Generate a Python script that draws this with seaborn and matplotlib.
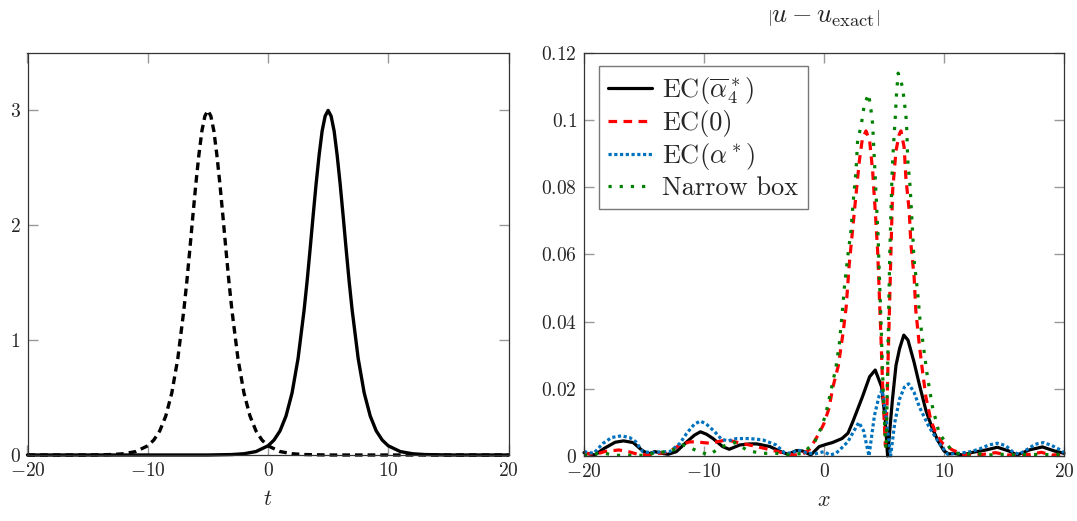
import matplotlib
matplotlib.use("Agg")
import matplotlib.pyplot as plt
import seaborn as sns

# left panel: initial (dashed) and exact (solid) profiles
t_exact = [-20, -5, -3, -2, -1, 0, 0.5, 1, 1.5, 2, 2.5, 3, 3.25, 3.5, 3.75, 4, 4.25, 4.5,
           4.75, 5, 5.25, 5.5, 5.75, 6, 6.25, 6.5, 6.75, 7, 7.5, 8, 8.5, 9, 9.5, 10, 11,
           12, 13, 15, 20]
u_exact = [0, 0, 0.004, 0.011, 0.03, 0.08, 0.13, 0.21, 0.34, 0.54, 0.84, 1.26, 1.51, 1.79,
           2.08, 2.36, 2.61, 2.82, 2.95, 3.00, 2.95, 2.82, 2.61, 2.36, 2.08, 1.79, 1.51,
           1.26, 0.84, 0.54, 0.34, 0.21, 0.13, 0.08, 0.03, 0.011, 0.004, 0, 0]
t_init = [-20, -15, -13, -12, -11, -10, -9.5, -9, -8.5, -8, -7.5, -7, -6.75, -6.5, -6.25,
          -6, -5.75, -5.5, -5.25, -5, -4.75, -4.5, -4.25, -4, -3.75, -3.5, -3.25, -3,
          -2.5, -2, -1.5, -1, -0.5, 0, 1, 2, 3, 5, 20]
u_init = [0, 0, 0.004, 0.011, 0.03, 0.08, 0.13, 0.21, 0.34, 0.54, 0.84, 1.26, 1.51, 1.79,
          2.08, 2.36, 2.61, 2.82, 2.95, 3.00, 2.95, 2.82, 2.61, 2.36, 2.08, 1.79, 1.51,
          1.26, 0.84, 0.54, 0.34, 0.21, 0.13, 0.08, 0.03, 0.011, 0.004, 0, 0]

# right panel: |u - u_exact|
x_ec4 = [-20, -19.8, -19.1, -18.3, -17.4, -16.7, -15.9, -15.2, -14.65, -14.1, -13.5, -13.0,
         -12.3, -11.5, -10.8, -10.3, -9.8, -9.25, -8.45, -7.9, -7.0, -6.2, -5.6, -4.5, -3.6,
         -3.0, -2.3, -1.8, -1.1, -0.4, 0.2, 0.7, 1.5, 2.0, 2.4, 3.2, 3.8, 4.27, 4.8, 5.1,
         5.3, 5.7, 6.0, 6.3, 6.65, 7.0, 7.5, 8.0, 8.5, 9.0, 9.5, 10.0, 10.4, 10.8, 11.5,
         12.4, 13.5, 14.45, 15.4, 16.1, 17.1, 18.2, 19.2, 20]
err_ec4 = [0.001, 0.0008, 0.0003, 0.0023, 0.0041, 0.0045, 0.004, 0.0018, 0.0006, 0.0013,
           0.0008, 0.0005, 0.0013, 0.004, 0.0062, 0.0072, 0.0065, 0.0052, 0.0028, 0.002,
           0.0033, 0.0036, 0.0036, 0.0028, 0.0013, 0.0005, 0.0016, 0.0015, 0.0003, 0.0028,
           0.0035, 0.004, 0.0052, 0.0068, 0.0102, 0.0176, 0.0236, 0.0256, 0.0206, 0.011,
           0.0, 0.0167, 0.027, 0.032, 0.036, 0.0345, 0.028, 0.0205, 0.0135, 0.0085, 0.0045,
           0.0015, 0.0006, 0.0008, 0.0003, 0.0011, 0.0018, 0.0026, 0.0015, 0.0003, 0.0018,
           0.0027, 0.0015, 0.0008]

x_ec0 = [-20, -19, -18.3, -17.1, -16.2, -15.5, -14.5, -13.8, -13.0, -12.0, -11.2, -10.7,
         -9.5, -8.1, -6.9, -5.6, -4.4, -3.3, -2.5, -1.8, -1.2, -0.9, -0.4, 0.0, 0.4, 0.75,
         1.2, 1.6, 1.85, 2.1, 2.4, 2.7, 2.95, 3.2, 3.5, 3.8, 4.05, 4.27, 4.47, 4.6, 4.75,
         4.88, 5.0, 5.12, 5.25, 5.35, 5.44, 5.58, 5.72, 6.0, 6.27, 6.41, 6.68, 6.82, 7.1,
         7.24, 7.51, 7.65, 7.93, 8.2, 8.49, 8.9, 9.32, 9.87, 10.7, 11.6, 12.5, 13.3, 14.3,
         15.3, 16.3, 17.2, 18.1, 19.0, 20]
err_ec0 = [0.0008, 0.0005, 0.0013, 0.0018, 0.0012, 0.0005, 0.0003, 0.0008, 0.0011, 0.0033,
           0.0042, 0.0042, 0.0038, 0.0048, 0.0038, 0.0028, 0.0018, 0.0008, 0.0003, 0.0005,
           0.002, 0.0038, 0.0068, 0.0097, 0.014, 0.0206, 0.027, 0.037, 0.0445, 0.057, 0.068,
           0.079, 0.088, 0.0945, 0.0968, 0.094, 0.085, 0.073, 0.061, 0.049, 0.035, 0.0216,
           0.0117, 0.003, 0.015, 0.03, 0.0414, 0.0612, 0.079, 0.0909, 0.0958, 0.0968, 0.0919,
           0.083, 0.073, 0.0632, 0.0533, 0.0434, 0.0335, 0.0255, 0.0176, 0.0107, 0.0067,
           0.0038, 0.0018, 0.0005, 0.0003, 0.0005, 0.001, 0.0003, 0.0003, 0.0005, 0.0011,
           0.0003, 0.0005]

x_ecstar = [-20, -19.2, -18.4, -17.7, -16.9, -16.2, -15.7, -15.1, -14.4, -13.6, -12.85,
            -12.0, -11.45, -10.8, -10.3, -9.8, -9.1, -8.55, -8.0, -7.3, -6.2, -5.1, -4.0,
            -3.3, -2.7, -2.2, -1.5, -0.8, 0.0, 0.5, 1.0, 1.5, 2.0, 2.5, 2.9, 3.3, 3.75, 4.2,
            4.6, 4.85, 5.1, 5.55, 5.9, 6.3, 6.7, 7.05, 7.5, 7.95, 8.75, 9.6, 10.3, 11.2,
            12.1, 12.9, 13.75, 14.45, 15.15, 15.7, 16.25, 16.95, 17.6, 18.3, 19.0, 19.7, 20]
err_ecstar = [0.0013, 0.0008, 0.0038, 0.0055, 0.006, 0.0055, 0.0043, 0.0013, 0.001, 0.0012,
              0.0013, 0.0038, 0.0067, 0.0095, 0.0104, 0.0095, 0.0072, 0.005, 0.0045, 0.0052,
              0.0052, 0.0048, 0.0033, 0.001, 0.0008, 0.0018, 0.001, 0.0006, 0.0013, 0.0003,
              0.0008, 0.0025, 0.0043, 0.0075, 0.01, 0.0075, 0.0, 0.012, 0.018, 0.0196, 0.014,
              0.0, 0.01, 0.017, 0.0205, 0.0215, 0.019, 0.0146, 0.0087, 0.0038, 0.0005,
              0.0008, 0.0012, 0.002, 0.0033, 0.0038, 0.0031, 0.0013, 0.0005, 0.002, 0.0035,
              0.004, 0.0031, 0.0018, 0.001]

x_box = [-20, -19.6, -18.5, -17.5, -16, -15, -13.8, -12.85, -11.75, -10.6, -9.6, -8.5,
         -7.45, -6.34, -5.23, -4.0, -2.8, -1.77, -0.8, -0.33, 0.12, 0.59, 1.0, 1.28, 1.5,
         1.7, 1.97, 2.25, 2.44, 2.67, 2.8, 3.1, 3.36, 3.72, 3.91, 4.05, 4.2, 4.35, 4.5,
         4.62, 4.75, 4.87, 5.0, 5.12, 5.18, 5.25, 5.32, 5.4, 5.48, 5.58, 5.68, 5.8, 5.94,
         6.04, 6.18, 6.35, 6.54, 6.68, 6.82, 6.9, 6.98, 7.18, 7.38, 7.51, 7.79, 7.99, 8.29,
         8.62, 9.04, 9.6, 10.3, 10.7, 11.5, 12.5, 13.6, 14.8, 16, 17.2, 18.4, 19.5, 20]
err_box = [0.0003, 0.0002, 0.001, 0.0002, 0.0002, 0.0002, 0.0011, 0.0013, 0.0033, 0.0016,
           0.0003, 0.0028, 0.004, 0.0016, 0.0008, 0.0008, 0.0003, 0.0008, 0.004, 0.0077,
           0.012, 0.0196, 0.0265, 0.0335, 0.0419, 0.0503, 0.0592, 0.0671, 0.076, 0.085,
           0.0939, 0.0985, 0.1047, 0.1078, 0.1032, 0.099, 0.088, 0.077, 0.066, 0.053, 0.04,
           0.026, 0.013, 0.004, 0.002, 0.015, 0.03, 0.045, 0.06, 0.073, 0.085, 0.093, 0.1008,
           0.1077, 0.114, 0.112, 0.11, 0.1057, 0.1018, 0.097, 0.088, 0.08, 0.0666, 0.0582,
           0.0493, 0.0409, 0.0325, 0.0236, 0.0146, 0.0067, 0.0033, 0.0013, 0.0003, 0.0008,
           0.0003, 0.0005, 0.0003, 0.0005, 0.0004, 0.0005, 0.0003]

sns.set_style("ticks")
plt.rcParams["font.family"] = "cmr10"
plt.rcParams["mathtext.fontset"] = "cm"
plt.rcParams["axes.unicode_minus"] = False
plt.rcParams["axes.linewidth"] = 0.9
plt.rcParams["axes.edgecolor"] = "#333333"

fig = plt.figure(figsize=(10.77, 5.21), dpi=100)
ax1 = fig.add_axes([27.5 / 1077, 1 - 455 / 521, 481 / 1077, 402 / 521])
ax2 = fig.add_axes([584 / 1077, 1 - 456 / 521, 480 / 1077, 403 / 521])

# left panel
sns.lineplot(x=t_init, y=u_init, ax=ax1, color="black", linewidth=2.4,
             linestyle=(0, (2.3, 1.5)), clip_on=False)
sns.lineplot(x=t_exact, y=u_exact, ax=ax1, color="black", linewidth=2.4, clip_on=False)
ax1.set_xlim(-20, 20)
ax1.set_ylim(0, 3.5)
ax1.set_xticks([-20, -10, 0, 10, 20], labels=["$-20$", "$-10$", "$0$", "$10$", "$20$"])
ax1.set_yticks([0, 1, 2, 3], labels=["$0$", "$1$", "$2$", "$3$"])
ax1.set_xlabel("$t$", fontsize=16)
ax1.xaxis.label.set_va("center")
ax1.xaxis.set_label_coords(0.5, -0.109)

# right panel
sns.lineplot(x=x_ec4, y=err_ec4, ax=ax2, color="black", linewidth=2.3,
             label=r"EC($\overline{\alpha}_4^*$)", clip_on=False)
sns.lineplot(x=x_ec0, y=err_ec0, ax=ax2, color="#ff0000", linewidth=2.3,
             linestyle=(0, (2.7, 2.0)), label="EC(0)", clip_on=False)
sns.lineplot(x=x_ecstar, y=err_ecstar, ax=ax2, color="#0072bd", linewidth=2.3,
             linestyle=(0, (1, 0.8)), label=r"EC($\alpha^*$)", clip_on=False)
sns.lineplot(x=x_box, y=err_box, ax=ax2, color="#008000", linewidth=2.3,
             linestyle=(0, (1, 2.5)), label="Narrow box", clip_on=False)
ax2.set_xlim(-20, 20)
ax2.set_ylim(0, 0.12)
ax2.set_xticks([-20, -10, 0, 10, 20], labels=["$-20$", "$-10$", "$0$", "$10$", "$20$"])
ax2.set_yticks([0, 0.02, 0.04, 0.06, 0.08, 0.1, 0.12],
               labels=["$0$", "$0.02$", "$0.04$", "$0.06$", "$0.08$", "$0.1$", "$0.12$"])
ax2.set_xlabel("$x$", fontsize=16)
ax2.xaxis.label.set_va("center")
ax2.xaxis.set_label_coords(0.5, -0.109)

fig.text(824 / 1077, 1 - 17 / 521, r"$\left|u-u_{\mathrm{exact}}\right|$",
         fontsize=19, ha="center", va="center")

leg = ax2.legend(loc="upper left", bbox_to_anchor=(0.031, 0.968), borderaxespad=0,
                 fontsize=19, frameon=True, fancybox=False, handlelength=1.65,
                 handletextpad=0.4, labelspacing=0.15, borderpad=0.35)
leg.get_frame().set_edgecolor("#555555")
leg.get_frame().set_linewidth(1.0)

for ax in (ax1, ax2):
    ax.tick_params(direction="in", top=True, right=True, length=7, width=1,
                   color="#999999", labelsize=14, pad=5)
    for s in ax.spines.values():
        s.set_visible(True)

fig.savefig("out.png", dpi=100)
